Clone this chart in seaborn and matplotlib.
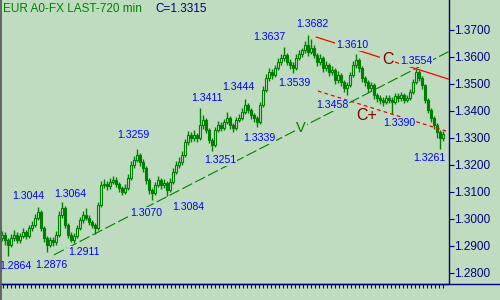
import numpy as np
import matplotlib
matplotlib.use("Agg")
import matplotlib.pyplot as plt
import seaborn as sns
from matplotlib.lines import Line2D

# ---------------- data ----------------
title = "EUR A0-FX LAST-720 min"

opens = [
    1.2930, 1.2940, 1.2922, 1.2905, 1.2930, 1.2940, 1.2922, 1.2937, 1.2952, 1.2937,
    1.2967, 1.2978, 1.3004, 1.3026, 1.2967, 1.2930, 1.2905, 1.2922, 1.2915, 1.2941,
    1.3015, 1.3041, 1.2978, 1.2941, 1.2922, 1.2937, 1.2967, 1.2996, 1.3015, 1.3004,
    1.2989, 1.2978, 1.2967, 1.3052, 1.3126, 1.3130, 1.3122, 1.3137, 1.3144, 1.3130,
    1.3115, 1.3100, 1.3115, 1.3152, 1.3200, 1.3219, 1.3237, 1.3211, 1.3189, 1.3144,
    1.3107, 1.3096, 1.3126, 1.3144, 1.3126, 1.3133, 1.3107, 1.3137, 1.3174, 1.3200,
    1.3211, 1.3237, 1.3285, 1.3311, 1.3300, 1.3311, 1.3300, 1.3348, 1.3367, 1.3330,
    1.3293, 1.3274, 1.3330, 1.3348, 1.3337, 1.3359, 1.3374, 1.3348, 1.3337, 1.3367,
    1.3374, 1.3396, 1.3422, 1.3404, 1.3385, 1.3374, 1.3359, 1.3422, 1.3478, 1.3522,
    1.3544, 1.3533, 1.3559, 1.3581, 1.3596, 1.3607, 1.3581, 1.3570, 1.3559, 1.3596,
    1.3611, 1.3626, 1.3644, 1.3618, 1.3633, 1.3607, 1.3581, 1.3596, 1.3559, 1.3570,
    1.3544, 1.3552, 1.3515, 1.3533, 1.3507, 1.3485, 1.3496, 1.3533, 1.3570, 1.3589,
    1.3559, 1.3522, 1.3507, 1.3485, 1.3496, 1.3459, 1.3448, 1.3441, 1.3433, 1.3448,
    1.3441, 1.3433, 1.3455, 1.3448, 1.3459, 1.3441, 1.3448, 1.3470, 1.3507, 1.3544,
    1.3522, 1.3496, 1.3441, 1.3404, 1.3374, 1.3348, 1.3322, 1.3300,
]
highs = [
    1.2955, 1.2950, 1.2930, 1.2945, 1.2958, 1.2950, 1.2948, 1.2965, 1.2960, 1.2978,
    1.2992, 1.3020, 1.3044, 1.3032, 1.2975, 1.2938, 1.2935, 1.2932, 1.2955, 1.3030,
    1.3064, 1.3048, 1.2985, 1.2950, 1.2948, 1.2978, 1.3008, 1.3030, 1.3040, 1.3015,
    1.2998, 1.2985, 1.3062, 1.3140, 1.3148, 1.3140, 1.3150, 1.3160, 1.3155, 1.3138,
    1.3122, 1.3128, 1.3165, 1.3215, 1.3235, 1.3259, 1.3245, 1.3222, 1.3195, 1.3152,
    1.3115, 1.3138, 1.3158, 1.3152, 1.3148, 1.3140, 1.3150, 1.3188, 1.3215, 1.3228,
    1.3252, 1.3298, 1.3325, 1.3322, 1.3328, 1.3320, 1.3411, 1.3385, 1.3375, 1.3338,
    1.3300, 1.3342, 1.3362, 1.3358, 1.3372, 1.3396, 1.3382, 1.3355, 1.3378, 1.3390,
    1.3410, 1.3444, 1.3430, 1.3412, 1.3392, 1.3380, 1.3435, 1.3492, 1.3538, 1.3560,
    1.3555, 1.3572, 1.3598, 1.3612, 1.3637, 1.3615, 1.3592, 1.3580, 1.3610, 1.3625,
    1.3635, 1.3660, 1.3682, 1.3665, 1.3645, 1.3615, 1.3610, 1.3605, 1.3585, 1.3578,
    1.3568, 1.3560, 1.3548, 1.3540, 1.3515, 1.3508, 1.3545, 1.3585, 1.3610, 1.3598,
    1.3565, 1.3530, 1.3515, 1.3508, 1.3502, 1.3468, 1.3458, 1.3450, 1.3460, 1.3458,
    1.3450, 1.3468, 1.3465, 1.3470, 1.3465, 1.3460, 1.3482, 1.3520, 1.3554, 1.3550,
    1.3530, 1.3500, 1.3448, 1.3410, 1.3380, 1.3355, 1.3330, 1.3325,
]
lows = [
    1.2918, 1.2905, 1.2864, 1.2895, 1.2920, 1.2910, 1.2912, 1.2928, 1.2925, 1.2930,
    1.2955, 1.2970, 1.2995, 1.2955, 1.2915, 1.2876, 1.2895, 1.2900, 1.2905, 1.2935,
    1.3005, 1.2965, 1.2930, 1.2915, 1.2911, 1.2930, 1.2960, 1.2985, 1.2995, 1.2978,
    1.2965, 1.2945, 1.2960, 1.3045, 1.3115, 1.3108, 1.3112, 1.3128, 1.3118, 1.3100,
    1.3088, 1.3092, 1.3108, 1.3145, 1.3190, 1.3210, 1.3198, 1.3175, 1.3130, 1.3092,
    1.3070, 1.3088, 1.3118, 1.3112, 1.3115, 1.3084, 1.3100, 1.3128, 1.3165, 1.3190,
    1.3200, 1.3228, 1.3275, 1.3285, 1.3290, 1.3286, 1.3292, 1.3335, 1.3318, 1.3280,
    1.3251, 1.3268, 1.3322, 1.3325, 1.3328, 1.3350, 1.3335, 1.3322, 1.3330, 1.3358,
    1.3365, 1.3388, 1.3392, 1.3372, 1.3360, 1.3339, 1.3352, 1.3415, 1.3470, 1.3512,
    1.3520, 1.3525, 1.3550, 1.3572, 1.3585, 1.3570, 1.3555, 1.3539, 1.3550, 1.3588,
    1.3600, 1.3615, 1.3605, 1.3610, 1.3595, 1.3565, 1.3572, 1.3545, 1.3548, 1.3530,
    1.3535, 1.3500, 1.3505, 1.3492, 1.3470, 1.3458, 1.3488, 1.3525, 1.3560, 1.3545,
    1.3508, 1.3492, 1.3470, 1.3475, 1.3445, 1.3432, 1.3425, 1.3418, 1.3425, 1.3428,
    1.3390, 1.3425, 1.3435, 1.3438, 1.3430, 1.3432, 1.3440, 1.3462, 1.3500, 1.3510,
    1.3482, 1.3430, 1.3392, 1.3360, 1.3332, 1.3300, 1.3261, 1.3290,
]
closes = [
    1.2940, 1.2922, 1.2905, 1.2930, 1.2940, 1.2922, 1.2937, 1.2952, 1.2937, 1.2967,
    1.2978, 1.3004, 1.3026, 1.2967, 1.2930, 1.2905, 1.2922, 1.2915, 1.2941, 1.3015,
    1.3041, 1.2978, 1.2941, 1.2922, 1.2937, 1.2967, 1.2996, 1.3015, 1.3004, 1.2989,
    1.2978, 1.2967, 1.3052, 1.3126, 1.3130, 1.3122, 1.3137, 1.3144, 1.3130, 1.3115,
    1.3100, 1.3115, 1.3152, 1.3200, 1.3219, 1.3237, 1.3211, 1.3189, 1.3144, 1.3107,
    1.3096, 1.3126, 1.3144, 1.3126, 1.3133, 1.3107, 1.3137, 1.3174, 1.3200, 1.3211,
    1.3237, 1.3285, 1.3311, 1.3300, 1.3311, 1.3300, 1.3348, 1.3367, 1.3330, 1.3293,
    1.3274, 1.3330, 1.3348, 1.3337, 1.3359, 1.3374, 1.3348, 1.3337, 1.3367, 1.3374,
    1.3396, 1.3422, 1.3404, 1.3385, 1.3374, 1.3359, 1.3422, 1.3478, 1.3522, 1.3544,
    1.3533, 1.3559, 1.3581, 1.3596, 1.3607, 1.3581, 1.3570, 1.3559, 1.3596, 1.3611,
    1.3626, 1.3644, 1.3618, 1.3633, 1.3607, 1.3581, 1.3596, 1.3559, 1.3570, 1.3544,
    1.3552, 1.3515, 1.3533, 1.3507, 1.3485, 1.3496, 1.3533, 1.3570, 1.3589, 1.3559,
    1.3522, 1.3507, 1.3485, 1.3496, 1.3459, 1.3448, 1.3441, 1.3433, 1.3448, 1.3441,
    1.3433, 1.3455, 1.3448, 1.3459, 1.3441, 1.3448, 1.3470, 1.3507, 1.3544, 1.3522,
    1.3496, 1.3441, 1.3404, 1.3374, 1.3348, 1.3322, 1.3300, 1.3315,
]

# bars whose high / low carries a price label
swing_highs = [12, 20, 45, 66, 81, 94, 102, 118, 138]
swing_lows = [2, 15, 24, 50, 55, 70, 85, 97, 115, 130, 146]

ytick_values = [1.28, 1.29, 1.30, 1.31, 1.32, 1.33, 1.34, 1.35, 1.36, 1.37]

# trend lines: (bar index, price) end points
uptrend_idx = [17.3, 148.9]
uptrend_price = [1.2867, 1.3620]
upper_channel_idx = [104.7, 148.9]
upper_channel_price = [1.3674, 1.3518]
lower_channel_idx = [105.3, 148.0]
lower_channel_price = [1.3474, 1.3326]

# ---------------- style ----------------
BG = "#c0dcc0"
GREEN = "#008000"
NAVY = "#000080"
BLUE = "#0000ff"
RED = "#ff0000"
MAROON = "#800000"

sns.set_theme(style="white", rc={"axes.facecolor": BG, "figure.facecolor": BG})
plt.rcParams["font.family"] = ["Liberation Sans", "DejaVu Sans"]

W, H = 500, 300
fig = plt.figure(figsize=(W / 100, H / 100), dpi=100)
fig.patch.set_facecolor(BG)
ax_bottom_px, ax_right_px = 283.5, 448.7
ax = fig.add_axes([0, (H - ax_bottom_px) / H, ax_right_px / W, ax_bottom_px / H])
ax.set_facecolor(BG)

o = np.array(opens); h = np.array(highs); l = np.array(lows); c = np.array(closes)
x = np.arange(len(c))

# candles
ax.vlines(x, l, h, color=GREEN, linewidth=1.0, zorder=2)
body_bottom = np.minimum(o, c)
body_h = np.maximum(np.abs(c - o), 0.00010)
up = c >= o
ax.bar(x[up], body_h[up], bottom=body_bottom[up], width=0.75,
       facecolor=BG, edgecolor=GREEN, linewidth=0.8, zorder=2)
ax.bar(x[~up], body_h[~up], bottom=body_bottom[~up], width=0.75,
       facecolor=GREEN, edgecolor=GREEN, linewidth=0.8, zorder=2)

# trend lines
sns.lineplot(x=uptrend_idx, y=uptrend_price, ax=ax, color=GREEN, linewidth=0.8,
             linestyle=(0, (10, 3)), zorder=3, sort=False, estimator=None)
sns.lineplot(x=upper_channel_idx, y=upper_channel_price, ax=ax, color=RED,
             linewidth=0.9, zorder=3, sort=False, estimator=None)
sns.lineplot(x=lower_channel_idx, y=lower_channel_price, ax=ax, color=RED,
             linewidth=0.9, linestyle=(0, (3, 2.5)), zorder=3, sort=False, estimator=None)

box = dict(boxstyle="square,pad=0.08", fc=BG, ec="none")

# swing labels: (dx, dy) pixel offset of the text centre from the bar extreme
offsets = {
    2: (7, 11), 12: (-10, -10), 15: (4.5, 14), 20: (8, -7), 24: (9.5, 10),
    45: (-3.5, -13.5), 50: (-6, 14), 55: (21, 12), 66: (7, -9), 70: (8, 9.5),
    81: (-7, -11), 85: (2, 11.5), 94: (-14.5, -9), 97: (1, 10.5), 102: (4, -10),
    115: (-15, 11), 118: (-4, -8), 130: (7.5, 10), 138: (0, -7.5), 146: (-11, 10.5),
}
for i in swing_highs + swing_lows:
    val = h[i] if i in swing_highs else l[i]
    dx, dy = offsets[i]
    ax.annotate(f"{val:.4f}", xy=(i, val), xytext=(dx * 0.72, -dy * 0.72 + 0.7),
                textcoords="offset points", ha="center", va="center",
                fontsize=7.6, color=BLUE, bbox=box, zorder=5, annotation_clip=False)

# trend-line markers
def on_line(xs, ys, xi):
    return float(np.interp(xi, xs, ys))

ax.text(99.7, on_line(uptrend_idx, uptrend_price, 99.7), "V", color=GREEN,
        fontsize=10.5, ha="center", va="center", bbox=box, zorder=5)
ax.text(128.5, on_line(upper_channel_idx, upper_channel_price, 128.5), "C", color=MAROON,
        fontsize=11.5, ha="center", va="center", bbox=box, zorder=5)
ax.text(121.4, 1.3384, "C+", color=MAROON, fontsize=11.5, ha="center", va="center", zorder=5)

# axes
ax.set_xlim(-0.667, 148.9)
ax.set_ylim(1.27610, 1.38111)
ax.yaxis.tick_right()
ax.set_yticks(ytick_values)
ax.set_yticklabels([f"{v:.4f}" for v in ytick_values])
ax.tick_params(axis="y", which="major", direction="out", length=3.6, width=0.8,
               color=NAVY, labelcolor=NAVY, labelsize=8.5, pad=0.6, right=True, left=False)
ax.set_xticks(np.arange(0.233, 147.4, 4 / 3))
ax.tick_params(axis="x", which="major", direction="out", length=2.9, width=0.75,
               color=NAVY, labelbottom=False, bottom=True)
ax.set_xlabel("")
ax.set_ylabel("")
for s in ["top", "left"]:
    ax.spines[s].set_visible(False)
for s in ["right", "bottom"]:
    ax.spines[s].set_color(NAVY)
    ax.spines[s].set_linewidth(1.0)
ax.grid(False)

# full-width bottom rule and left grey edge
yb = (H - ax_bottom_px) / H
fig.add_artist(Line2D([0, 1], [yb, yb], transform=fig.transFigure, color=NAVY, lw=1.0))
fig.add_artist(Line2D([0.8 / W, 0.8 / W], [0, 1], transform=fig.transFigure,
                      color="#5a5a5a", lw=1.3))

# title texts
fig.text(3 / W, 1 - 2.5 / H, title, color=GREEN, fontsize=8.5, ha="left", va="top")
fig.text(155 / W, 1 - 2.5 / H, f"C={closes[-1]:.4f}", color=NAVY, fontsize=8.5,
         ha="left", va="top")

fig.savefig("out.png", dpi=100, facecolor=BG)
